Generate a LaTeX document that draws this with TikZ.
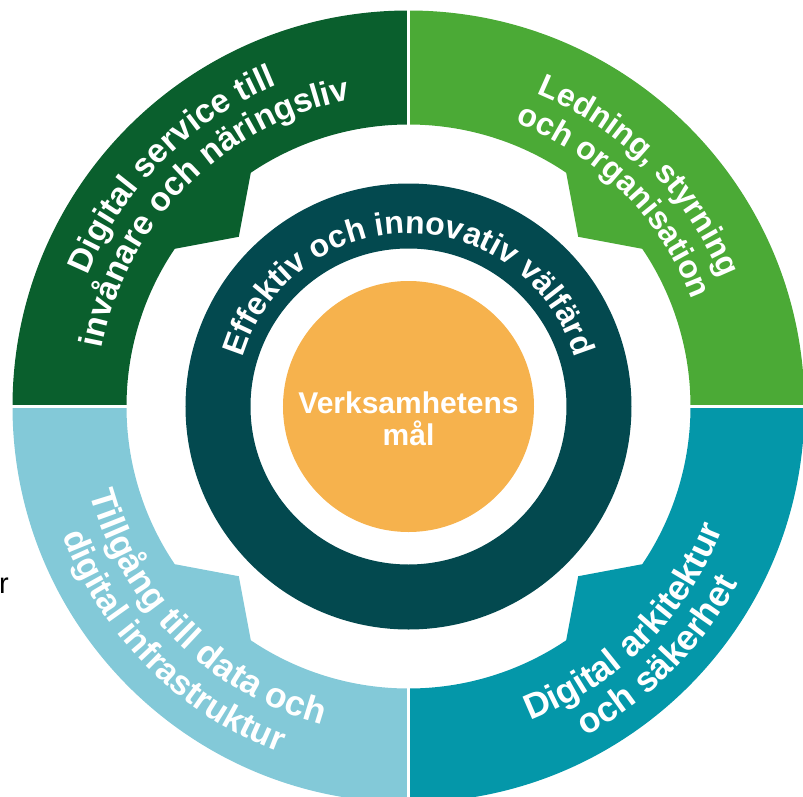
\documentclass[tikz,border=0pt]{standalone}
\usepackage{fontspec}
\setmainfont{Liberation Sans}
\usepackage{tikz}
\usetikzlibrary{decorations.text}

\definecolor{darkgreen}{HTML}{0A5F2D}
\definecolor{lightgreen}{HTML}{4BAA36}
\definecolor{lightblue}{HTML}{83C9D8}
\definecolor{seablue}{HTML}{0497A9}
\definecolor{ringteal}{HTML}{03494F}
\definecolor{goalorange}{HTML}{F6B24D}

\newcommand{\bowfont}[1]{\bfseries\fontsize{#1}{#1}\selectfont}

\begin{document}
\begin{tikzpicture}[x=1pt,y=1pt,
    bow/.style 2 args={decorate,decoration={text along path,text align=center,text color=white,text={|\bowfont{#1}|#2}}},
    goaltext/.style={text=white,font=\bfseries\fontsize{30}{32}\selectfont,align=center,inner sep=0pt}]
        \useasboundingbox (-408.5,-389.5) rectangle (394.5,406.5);
        \clip (-408.5,-389.5) rectangle (394.5,406.5);
        % outer ring, four parts
        \foreach \a/\c in {0/lightgreen,90/darkgreen,180/lightblue,270/seablue}
        \fill[\c,rotate=\a] (0:282) -- (0:396) arc[start angle=0,end angle=90,radius=396]
            -- (90:282) arc[start angle=90,end angle=56,radius=282] -- (45:240)
            -- (34:282) arc[start angle=34,end angle=0,radius=282] -- cycle;
        \foreach \a in {0,90,180,270}
        \draw[white,line width=3.3pt] (\a:230) -- (\a:400);
        % middle ring and goal
        \fill[ringteal,even odd rule] (0,0) circle[radius=223] (0,0) circle[radius=158];
        \fill[goalorange] (0,0) circle[radius=125.5];
        \node[goaltext] (goal) at (0,-12) {Verksamhetens\\mål};
        % texts along the rings
        \path[bow={33.5}{Digital service till}] (200:347) arc[start angle=200,end angle=70,radius=347];
        \path[bow={33.5}{invånare och näringsliv}] (200:312) arc[start angle=200,end angle=70,radius=312];
        \path[bow={32}{Ledning, styrning}] (110:338) arc[start angle=110,end angle=-20,radius=338];
        \path[bow={32}{och organisation}] (110:303) arc[start angle=110,end angle=-20,radius=303];
        \path[bow={35.5}{Tillgång till data och}] (160:330) arc[start angle=160,end angle=290,radius=330];
        \path[bow={34.5}{digital infrastruktur}] (160:369) arc[start angle=160,end angle=290,radius=369];
        \path[bow={35.5}{Digital arkitektur}] (250:337) arc[start angle=250,end angle=380,radius=337];
        \path[bow={35.5}{och säkerhet}] (250:374) arc[start angle=250,end angle=380,radius=374];
        \path[bow={32}{Effektiv och innovativ välfärd}] (200:173) arc[start angle=200,end angle=-20,radius=173];
        % cut-off word at the left edge
        \node[anchor=base west,inner sep=0pt,font=\fontsize{29}{29}\selectfont] (stray) at (-409.5,-186.5) {r};
\end{tikzpicture}
\end{document}
